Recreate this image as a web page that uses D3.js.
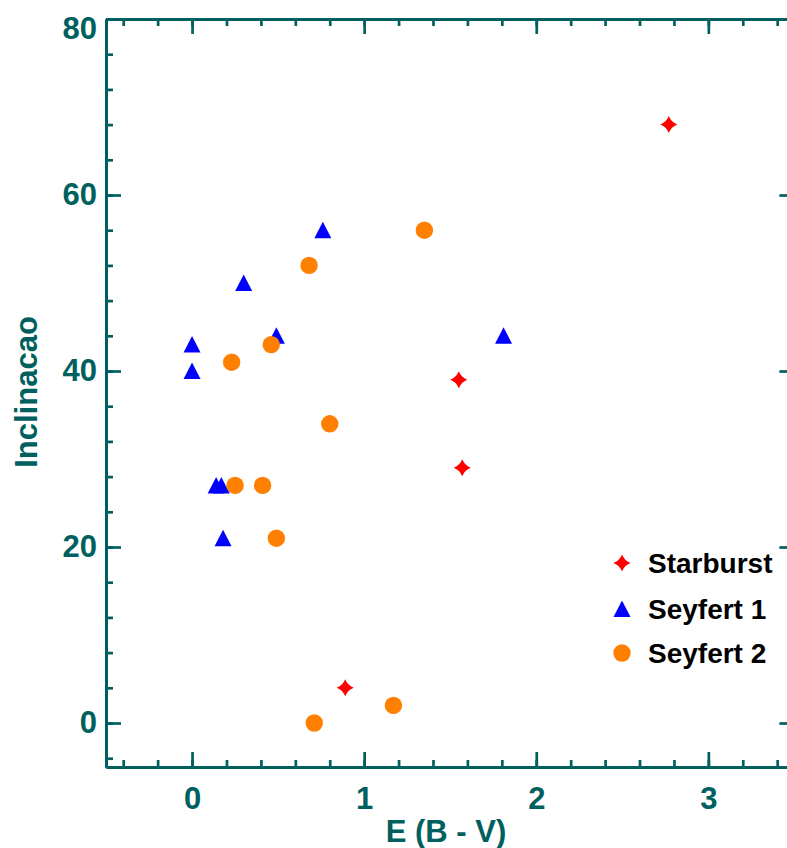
<!DOCTYPE html>
<html>
<head>
<meta charset="utf-8">
<script src="https://cdn.jsdelivr.net/npm/d3@7"></script>
<style>
  body { margin: 0; background: #fff; }
  svg { display: block; font-family: Arial, "Liberation Sans", sans-serif; }
</style>
</head>
<body>
<div id="chart"></div>
<script>
// data
var starburstX = [2.77, 1.55, 1.57, 0.89];
var starburstY = [68, 39, 29, 4];

var seyfert1X = [0.76, 0.30, 0.49, 0.00, 0.00, 0.14, 0.17, 0.18, 1.81];
var seyfert1Y = [56, 50, 44, 43, 40, 27, 27, 21, 44];

var seyfert2X = [1.35, 0.68, 0.46, 0.23, 0.80, 0.25, 0.41, 0.49, 0.71, 1.17];
var seyfert2Y = [56, 52, 43, 41, 34, 27, 27, 21, 0, 2];

var legendNames = ["Starburst", "Seyfert 1", "Seyfert 2"];
var xTicks = [0, 1, 2, 3];
var yTicks = [0, 20, 40, 60, 80];

var width = 787, height = 848;
// plot box (right edge falls just past the page, as in the original)
var plotLeft = 106, plotRight = 794.4, plotTop = 19, plotBottom = 767;
var axisColor = "#006060";

var svg = d3.select("#chart").append("svg")
    .attr("width", width)
    .attr("height", height);

var x = d3.scaleLinear().domain([-0.5, 3.5]).range([plotLeft, plotRight]);
var y = d3.scaleLinear().domain([-5, 80]).range([plotBottom, plotTop]);

var xMinor = d3.range(-0.4, 3.5, 0.2).map(function(d) { return +d.toFixed(1); });
var yMinor = d3.range(-4, 81, 4);

// axes, ticks point inwards like the original
function drawAxis(axis, tx, ty, cls) {
    var g = svg.append("g")
        .attr("class", cls)
        .attr("transform", "translate(" + tx + "," + ty + ")")
        .call(axis);
    g.select(".domain").attr("stroke", axisColor).attr("stroke-width", 3);
    g.selectAll(".tick line").attr("stroke", axisColor).attr("stroke-width", 2.7);
    g.selectAll("text")
        .attr("fill", axisColor)
        .style("font-size", "31px")
        .style("font-weight", "bold");
    return g;
}

// minor ticks first
drawAxis(d3.axisBottom(x).tickValues(xMinor).tickSizeInner(-7).tickSizeOuter(0).tickFormat(""), 0, plotBottom, "xminor");
drawAxis(d3.axisTop(x).tickValues(xMinor).tickSizeInner(-7).tickSizeOuter(0).tickFormat(""), 0, plotTop, "xminor2");
drawAxis(d3.axisLeft(y).tickValues(yMinor).tickSizeInner(-7).tickSizeOuter(0).tickFormat(""), plotLeft, 0, "yminor");
drawAxis(d3.axisRight(y).tickValues(yMinor).tickSizeInner(-7).tickSizeOuter(0).tickFormat(""), plotRight, 0, "yminor2");

// major ticks
drawAxis(d3.axisBottom(x).tickValues(xTicks).tickSizeInner(-15).tickSizeOuter(0).tickPadding(20).tickFormat(d3.format("d")), 0, plotBottom, "xaxis");
drawAxis(d3.axisTop(x).tickValues(xTicks).tickSizeInner(-15).tickSizeOuter(0).tickFormat(""), 0, plotTop, "xaxis2");
var yAx = drawAxis(d3.axisLeft(y).tickValues(yTicks).tickSizeInner(-15).tickSizeOuter(0).tickPadding(9).tickFormat(d3.format("d")), plotLeft, 0, "yaxis");
drawAxis(d3.axisRight(y).tickValues(yTicks).tickSizeInner(-15).tickSizeOuter(0).tickFormat(""), plotRight, 0, "yaxis2");

// top label is pushed down to stay on the page
yAx.selectAll(".tick text").filter(function(d) { return d === 80; }).attr("dy", "0.62em");

// axis titles
svg.append("text")
    .attr("x", 446)
    .attr("y", 842)
    .attr("text-anchor", "middle")
    .attr("fill", axisColor)
    .style("font-size", "31px")
    .style("font-weight", "bold")
    .text("E (B - V)");

svg.append("text")
    .attr("transform", "translate(37,392) rotate(-90)")
    .attr("text-anchor", "middle")
    .attr("fill", axisColor)
    .style("font-size", "31px")
    .style("font-weight", "bold")
    .text("Inclinacao");

// marker shapes
function starPath(r) {
    var a = r * 0.28;
    return "M0," + (-r) + "Q" + a + "," + (-a) + " " + r + ",0" +
        "Q" + a + "," + a + " 0," + r +
        "Q" + (-a) + "," + a + " " + (-r) + ",0" +
        "Q" + (-a) + "," + (-a) + " 0," + (-r) + "Z";
}
function trianglePath(w) {
    return "M0," + (-w) + "L" + w + "," + (w - 0.5) + "L" + (-w) + "," + (w - 0.5) + "Z";
}

var plot = svg.append("g");

plot.selectAll(".star")
    .data(d3.zip(starburstX, starburstY))
    .join("path")
    .attr("class", "star")
    .attr("transform", function(d) { return "translate(" + x(d[0]) + "," + y(d[1]) + ")"; })
    .attr("d", starPath(8.5))
    .attr("fill", "#ff0000");

plot.selectAll(".tri")
    .data(d3.zip(seyfert1X, seyfert1Y))
    .join("path")
    .attr("class", "tri")
    .attr("transform", function(d) { return "translate(" + x(d[0]) + "," + y(d[1]) + ")"; })
    .attr("d", trianglePath(8.5))
    .attr("fill", "#0000ff");

plot.selectAll(".dot")
    .data(d3.zip(seyfert2X, seyfert2Y))
    .join("circle")
    .attr("class", "dot")
    .attr("cx", function(d) { return x(d[0]); })
    .attr("cy", function(d) { return y(d[1]); })
    .attr("r", 8.7)
    .attr("fill", "#ff8000");

// legend
var legendY = [563, 609, 653];
var legend = svg.append("g");
legend.append("path")
    .attr("transform", "translate(622," + legendY[0] + ")")
    .attr("d", starPath(8.5)).attr("fill", "#ff0000");
legend.append("path")
    .attr("transform", "translate(622," + legendY[1] + ")")
    .attr("d", trianglePath(8.5)).attr("fill", "#0000ff");
legend.append("circle")
    .attr("cx", 622).attr("cy", legendY[2]).attr("r", 8.7).attr("fill", "#ff8000");

legend.selectAll("text")
    .data(legendNames)
    .join("text")
    .attr("x", 648)
    .attr("y", function(d, i) { return legendY[i]; })
    .attr("dy", "0.36em")
    .attr("fill", "#000")
    .style("font-size", "28px")
    .style("font-weight", "bold")
    .text(function(d) { return d; });
</script>
</body>
</html>
